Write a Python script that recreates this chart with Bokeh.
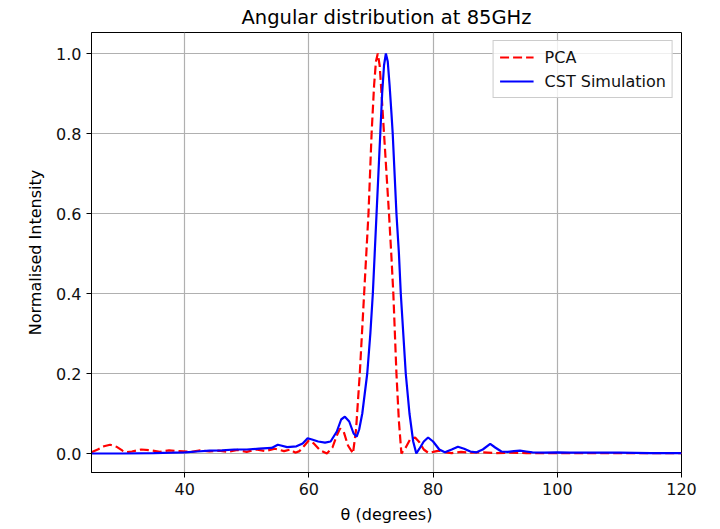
from bokeh.plotting import figure
from bokeh.models import FixedTicker, Range1d, Legend, LegendItem, CustomJSTickFormatter
from bokeh.embed import file_html
from bokeh.resources import INLINE

# PCA (dashed red)
pca_theta = [25, 26, 27, 28, 29, 30, 30.6, 31.5, 33, 34.5, 36, 37.5, 39, 41, 42.5, 44, 45.5, 47,
             48.5, 50, 51.5, 53, 54.5, 56, 57, 57.8, 58.5, 59.3, 60.0, 60.8, 61.8, 62.9, 63.8,
             64.5, 65.0, 65.6, 66.3, 67.1, 67.6, 68.2, 68.9, 69.6, 70.1, 70.5, 70.8, 71.1, 71.4,
             71.7, 72.1, 72.5, 72.9, 73.3, 73.6, 74.1, 74.5, 74.9, 75.6, 76.3, 77.1, 77.8, 78.5,
             79.2, 80, 81, 82, 83, 84.5, 86, 88, 90, 92, 95, 100, 110, 120]
pca_int = [0.003, 0.01, 0.018, 0.022, 0.017, 0.007, 0.003, 0.005, 0.01, 0.008, 0.004, 0.008, 0.006,
           0.004, 0.008, 0.005, 0.007, 0.004, 0.009, 0.004, 0.01, 0.006, 0.012, 0.006, 0.01, 0.002,
           0.006, 0.02, 0.033, 0.025, 0.008, 0.0, 0.015, 0.045, 0.062, 0.055, 0.02, 0.0, 0.06,
           0.2, 0.4, 0.6, 0.8, 0.92, 0.98, 1.0, 0.97, 0.9, 0.8, 0.7, 0.6, 0.49, 0.4, 0.2, 0.08,
           0.0, 0.015, 0.035, 0.04, 0.028, 0.01, 0.002, 0.004, 0.007, 0.003, 0.001, 0.004, 0.002,
           0.003, 0.001, 0.002, 0.001, 0.001, 0.001, 0.001]

# CST Simulation (solid blue)
cst_theta = [25, 30, 35, 38, 40, 42, 44, 46, 48, 50, 52, 54, 55.0, 55.5, 56.5, 58, 59.0, 59.8, 60.5,
             61.5, 62.6, 63.5, 64.5, 65.2, 65.8, 66.5, 67.2, 67.7, 68.1, 68.6, 69.0, 69.4, 69.9,
             70.3, 70.6, 70.9, 71.2, 71.5, 71.8, 72.1, 72.4, 72.7, 73.0, 73.3, 73.5, 73.8, 74.1,
             74.5, 74.8, 75.2, 75.6, 76.2, 76.8, 77.3, 77.8, 78.5, 79.2, 80.0, 81.0, 81.9, 83, 84,
             85, 86, 87, 88, 89.2, 90, 91, 92, 93, 94, 95, 96, 98, 100, 102, 105, 110, 115, 120]
cst_int = [0.0, 0.0, 0.001, 0.002, 0.003, 0.005, 0.007, 0.008, 0.01, 0.01, 0.012, 0.014, 0.022,
           0.02, 0.016, 0.018, 0.025, 0.038, 0.035, 0.03, 0.027, 0.03, 0.055, 0.085, 0.092, 0.08,
           0.05, 0.042, 0.06, 0.1, 0.15, 0.2, 0.3, 0.4, 0.5, 0.6, 0.7, 0.8, 0.9, 0.97, 1.0, 0.98,
           0.92, 0.85, 0.8, 0.7, 0.6, 0.5, 0.4, 0.3, 0.2, 0.1, 0.03, 0.0, 0.012, 0.03, 0.04, 0.03,
           0.01, 0.003, 0.01, 0.017, 0.012, 0.005, 0.003, 0.01, 0.024, 0.015, 0.005, 0.004, 0.006,
           0.007, 0.005, 0.003, 0.002, 0.003, 0.002, 0.002, 0.002, 0.001, 0.001]

x_ticks = [40, 60, 80, 100, 120]
y_ticks = [0.0, 0.2, 0.4, 0.6, 0.8, 1.0]

FONT = "DejaVu Sans"

p = figure(width=712, height=527, output_backend="svg", toolbar_location=None,
           x_range=Range1d(25, 120), y_range=Range1d(-0.0475, 1.0525),
           min_border_left=91, min_border_right=31, min_border_top=32, min_border_bottom=55,
           title="Angular distribution at 85GHz")

p.title.text_font = FONT
p.title.text_font_size = "19.5px"
p.title.text_font_style = "normal"
p.title.align = "center"
p.title.text_color = "#000000"
p.title.standoff = 7

p.outline_line_color = "#000000"
p.outline_line_width = 1
p.background_fill_color = "white"
p.border_fill_color = "white"

l1 = p.line(pca_theta, pca_int, line_color="#ff0000", line_width=2.2, line_dash="9 4")
l2 = p.line(cst_theta, cst_int, line_color="#0000ff", line_width=2.2)

for ax in (p.xaxis[0], p.yaxis[0]):
    ax.axis_line_color = "#000000"
    ax.major_tick_line_color = "#000000"
    ax.major_tick_out = 5
    ax.major_tick_in = 0
    ax.minor_tick_line_color = None
    ax.major_label_text_font = FONT
    ax.major_label_text_font_size = "16px"
    ax.major_label_text_color = "#111111"
    ax.axis_label_text_font = FONT
    ax.axis_label_text_font_size = "16px"
    ax.axis_label_text_font_style = "normal"
    ax.axis_label_text_color = "#000000"

p.xaxis.ticker = FixedTicker(ticks=x_ticks)
p.yaxis.ticker = FixedTicker(ticks=y_ticks)
p.yaxis.formatter = CustomJSTickFormatter(code="return tick.toFixed(1);")
p.xaxis.axis_label = "θ (degrees)"
p.yaxis.axis_label = "Normalised Intensity"
p.xaxis.major_label_standoff = 5
p.yaxis.major_label_standoff = 5
p.xaxis.axis_label_standoff = 7
p.yaxis.axis_label_standoff = 8

p.xgrid.grid_line_color = "#b0b0b0"
p.ygrid.grid_line_color = "#b0b0b0"
p.xgrid.grid_line_width = 1.2
p.ygrid.grid_line_width = 1.2

legend = Legend(items=[LegendItem(label="PCA", renderers=[l1]),
                       LegendItem(label="CST Simulation", renderers=[l2])],
                location="top_right")
legend.label_text_font = FONT
legend.label_text_font_size = "16px"
legend.label_text_color = "#111111"
legend.border_line_color = "#cccccc"
legend.border_line_alpha = 1
legend.background_fill_alpha = 0.8
legend.glyph_width = 34
legend.label_standoff = 11
legend.spacing = 4
legend.padding = 6
legend.margin = 8
p.add_layout(legend)

open("out.html", "w").write(file_html(p, INLINE))
